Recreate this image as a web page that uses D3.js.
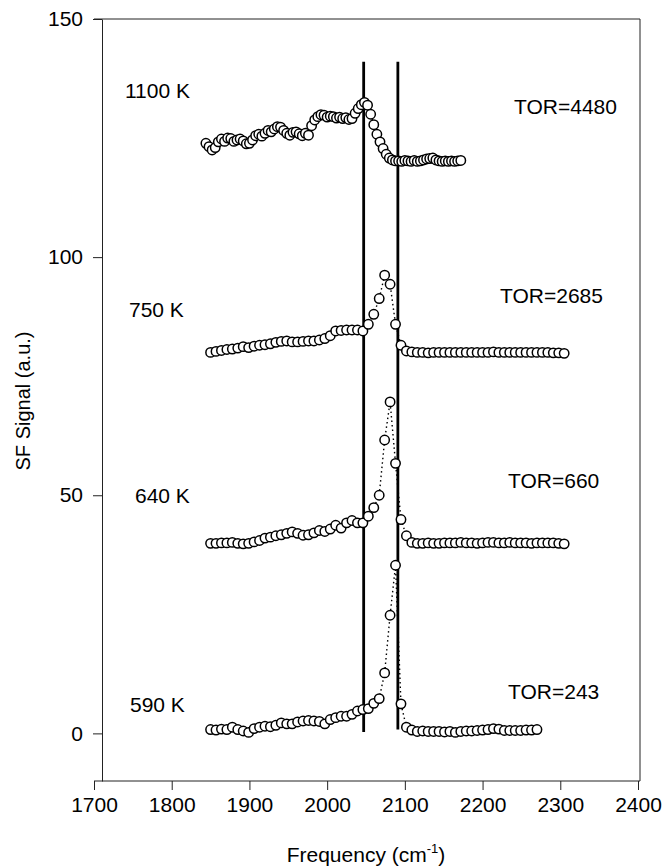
<!DOCTYPE html>
<html>
<head>
<meta charset="utf-8">
<script src="https://cdn.jsdelivr.net/npm/d3@7"></script>
<style>
  html, body { margin: 0; padding: 0; background: #fff; }
  svg { display: block; }
  text { font-family: "Liberation Sans", Arial, sans-serif; fill: #000; }
</style>
</head>
<body>
<svg id="chart" width="664" height="867"></svg>
<script>
// ---- Data ----
const xTicks = [1700, 1800, 1900, 2000, 2100, 2200, 2300, 2400];
const yTicks = [0, 50, 100, 150];

const freq7 = [1850,1857,1864,1871,1878,1885,1892,1899,1906,1913,1920,1927,1934,1941,1948,1955,1962,1969,1976,1983,
  1990,1997,2004,2011,2018,2025,2032,2039,2046,2053,2060,2067,2074,2081,2088,2095,2102,2109,2116,2123,
  2130,2137,2144,2151,2158,2165,2172,2179,2186,2193,2200,2207,2214,2221,2228,2235,2242,2249,2256,2263,
  2270,2277,2284,2291,2298,2305];

const signal590 = [0.8,0.7,0.9,0.8,1.3,0.8,0.5,0.2,1.0,1.3,1.5,1.4,1.7,2.2,2.0,2.0,2.4,2.6,2.7,2.6,
  2.5,2.0,2.9,3.3,3.6,3.6,4.0,4.7,5.0,5.2,6.3,7.3,12.7,24.8,35.3,6.2,1.3,0.7,0.4,0.5,
  0.4,0.4,0.4,0.3,0.4,0.2,0.4,0.5,0.5,0.6,0.7,0.8,1.0,0.9,0.6,0.6,0.6,0.6,0.7,0.7,
  0.8];

const signal640 = [39.9,39.9,40.0,40.0,40.1,39.9,39.8,39.9,40.2,40.5,41.0,41.2,41.5,41.7,42.0,42.3,42.0,41.6,41.7,42.1,
  42.6,42.4,42.9,43.7,43.1,44.2,44.7,44.2,44.2,45.6,47.4,50.0,61.6,69.6,56.7,44.9,41.5,40.1,39.9,39.9,
  40.0,39.9,39.9,40.0,40.0,40.0,40.1,40.0,40.0,39.9,40.0,40.1,40.1,40.0,40.0,40.1,40.0,40.0,40.0,39.9,
  40.0,40.0,40.0,40.0,39.9,39.8];

const signal750 = [80.0,80.2,80.4,80.6,80.7,80.9,81.2,81.0,81.3,81.5,81.6,81.8,82.1,82.3,82.4,82.2,82.2,82.3,82.4,82.4,
  82.6,82.9,83.5,84.5,84.6,84.7,84.7,84.7,84.5,85.9,88.0,91.3,96.2,94.3,85.9,81.5,80.3,80.1,80.0,80.0,
  79.9,80.0,80.0,80.0,80.0,80.0,80.0,80.0,80.0,80.0,80.0,80.0,80.1,80.0,80.0,80.0,80.0,80.0,80.0,80.0,
  80.0,80.0,80.0,79.9,79.9,79.8];

const freq1100 = [1844,1848,1852,1856,1860,1864,1868,1872,1876,1880,1884,1888,1892,1896,1900,1904,1908,1912,1916,1920,
  1924,1928,1932,1936,1940,1944,1948,1952,1956,1960,1964,1968,1972,1976,1980,1984,1988,1992,1996,2000,
  2004,2008,2012,2016,2020,2024,2028,2032,2036,2040,2044,2048,2052,2056,2060,2064,2068,2072,2076,2080,
  2084,2088,2092,2096,2100,2104,2108,2112,2116,2120,2124,2128,2132,2136,2140,2144,2148,2152,2156,2160,
  2164,2168,2172];

const signal1100 = [123.9,123.2,122.5,123.0,124.2,124.8,124.3,125.0,124.9,124.3,124.6,124.8,124.4,123.8,123.9,124.6,125.5,125.8,125.4,126.0,
  126.6,126.3,126.9,127.4,127.3,126.6,126.0,125.6,126.2,126.3,125.9,125.5,126.0,125.6,127.6,128.8,129.5,129.9,129.8,129.4,
  129.6,129.5,129.2,129.4,129.1,129.3,128.9,129.1,130.2,131.2,132.0,132.5,131.9,130.0,127.8,125.8,124.2,122.8,121.6,120.8,
  120.4,120.2,120.2,120.1,120.3,120.2,120.1,120.3,120.1,120.2,120.4,120.6,120.7,120.8,120.4,120.2,120.1,120.2,120.1,120.2,
  120.1,120.2,120.3];

const tempLabels = ["1100 K", "750 K", "640 K", "590 K"];
const torLabels = ["TOR=4480", "TOR=2685", "TOR=660", "TOR=243"];
const markerFreqs = [2047, 2091];
const markerBottoms = [0.3, 0.8];
const markerTop = 141;

// ---- Layout ----
const svg = d3.select("#chart");
const x = d3.scaleLinear().domain([1700, 2400]).range([94, 638]);
const y = d3.scaleLinear().domain([-10, 150]).range([781, 19]);
const yAxisX = 102;
const rightX = 640;
const axisColor = "#222";
const FS = 21;

// Frame (top and right)
svg.append("line").attr("x1", x(1700)).attr("x2", rightX).attr("y1", y(150)).attr("y2", y(150))
  .attr("stroke", axisColor).attr("stroke-width", 1);
svg.append("line").attr("x1", rightX).attr("x2", rightX).attr("y1", y(150)).attr("y2", y(-10))
  .attr("stroke", axisColor).attr("stroke-width", 1);

// X axis
const gx = svg.append("g").attr("transform", `translate(0,${y(-10)})`)
  .call(d3.axisBottom(x).tickValues(xTicks).tickFormat(d3.format("d")).tickSize(9).tickSizeOuter(0).tickPadding(7));
gx.select(".domain").attr("stroke", axisColor).attr("d", `M${x(1700)},0H${rightX}`);
gx.selectAll(".tick line").attr("stroke", axisColor);
gx.selectAll(".tick text").attr("font-size", FS).attr("font-family", "Liberation Sans, Arial, sans-serif").attr("fill", "#000");

// Y axis
const gy = svg.append("g").attr("transform", `translate(${yAxisX},0)`)
  .call(d3.axisLeft(y).tickValues(yTicks).tickFormat(d3.format("d")).tickSize(9).tickSizeOuter(0).tickPadding(10));
gy.select(".domain").attr("stroke", axisColor);
gy.selectAll(".tick line").attr("stroke", axisColor);
gy.selectAll(".tick text").attr("font-size", FS).attr("font-family", "Liberation Sans, Arial, sans-serif").attr("fill", "#000");

// Axis titles
svg.append("text").attr("transform", `translate(30,401) rotate(-90)`).attr("text-anchor", "middle")
  .attr("font-size", 20).text("SF Signal (a.u.)");
const xt = svg.append("text").attr("x", 366).attr("y", 862).attr("text-anchor", "middle").attr("font-size", FS);
xt.append("tspan").text("Frequency (cm");
xt.append("tspan").attr("font-size", 13).attr("dy", -9).text("-1");
xt.append("tspan").attr("dy", 9).text(")");

// Series
const series = [
  { f: freq1100, v: signal1100 },
  { f: freq7.slice(0, signal750.length), v: signal750 },
  { f: freq7.slice(0, signal640.length), v: signal640 },
  { f: freq7.slice(0, signal590.length), v: signal590 }
];

const line = d3.line().x(d => x(d[0])).y(d => y(d[1]));
series.forEach(s => {
  const pts = s.f.map((f, i) => [f, s.v[i]]);
  svg.append("path").datum(pts).attr("d", line).attr("fill", "none")
    .attr("stroke", "#000").attr("stroke-width", 1.4).attr("stroke-dasharray", "1.5,3");
});

// Vertical marker lines
markerFreqs.forEach((f, i) => {
  svg.append("line").attr("x1", x(f)).attr("x2", x(f)).attr("y1", y(markerTop)).attr("y2", y(markerBottoms[i]))
    .attr("stroke", "#000").attr("stroke-width", 2.8);
});

// Markers
series.forEach(s => {
  const pts = s.f.map((f, i) => [f, s.v[i]]);
  svg.append("g").selectAll("circle").data(pts).join("circle")
    .attr("cx", d => x(d[0])).attr("cy", d => y(d[1])).attr("r", 4.7)
    .attr("fill", "#fff").attr("stroke", "#000").attr("stroke-width", 1.5);
});

// Annotations
const tempPos = [[125, 98], [129, 317], [135, 503], [130, 712]];
const torPos = [[514, 114], [500, 303], [508, 488], [508, 699]];
tempLabels.forEach((t, i) => {
  svg.append("text").attr("x", tempPos[i][0]).attr("y", tempPos[i][1]).attr("font-size", FS).text(t);
});
torLabels.forEach((t, i) => {
  svg.append("text").attr("x", torPos[i][0]).attr("y", torPos[i][1]).attr("font-size", FS).text(t);
});
</script>
</body>
</html>
